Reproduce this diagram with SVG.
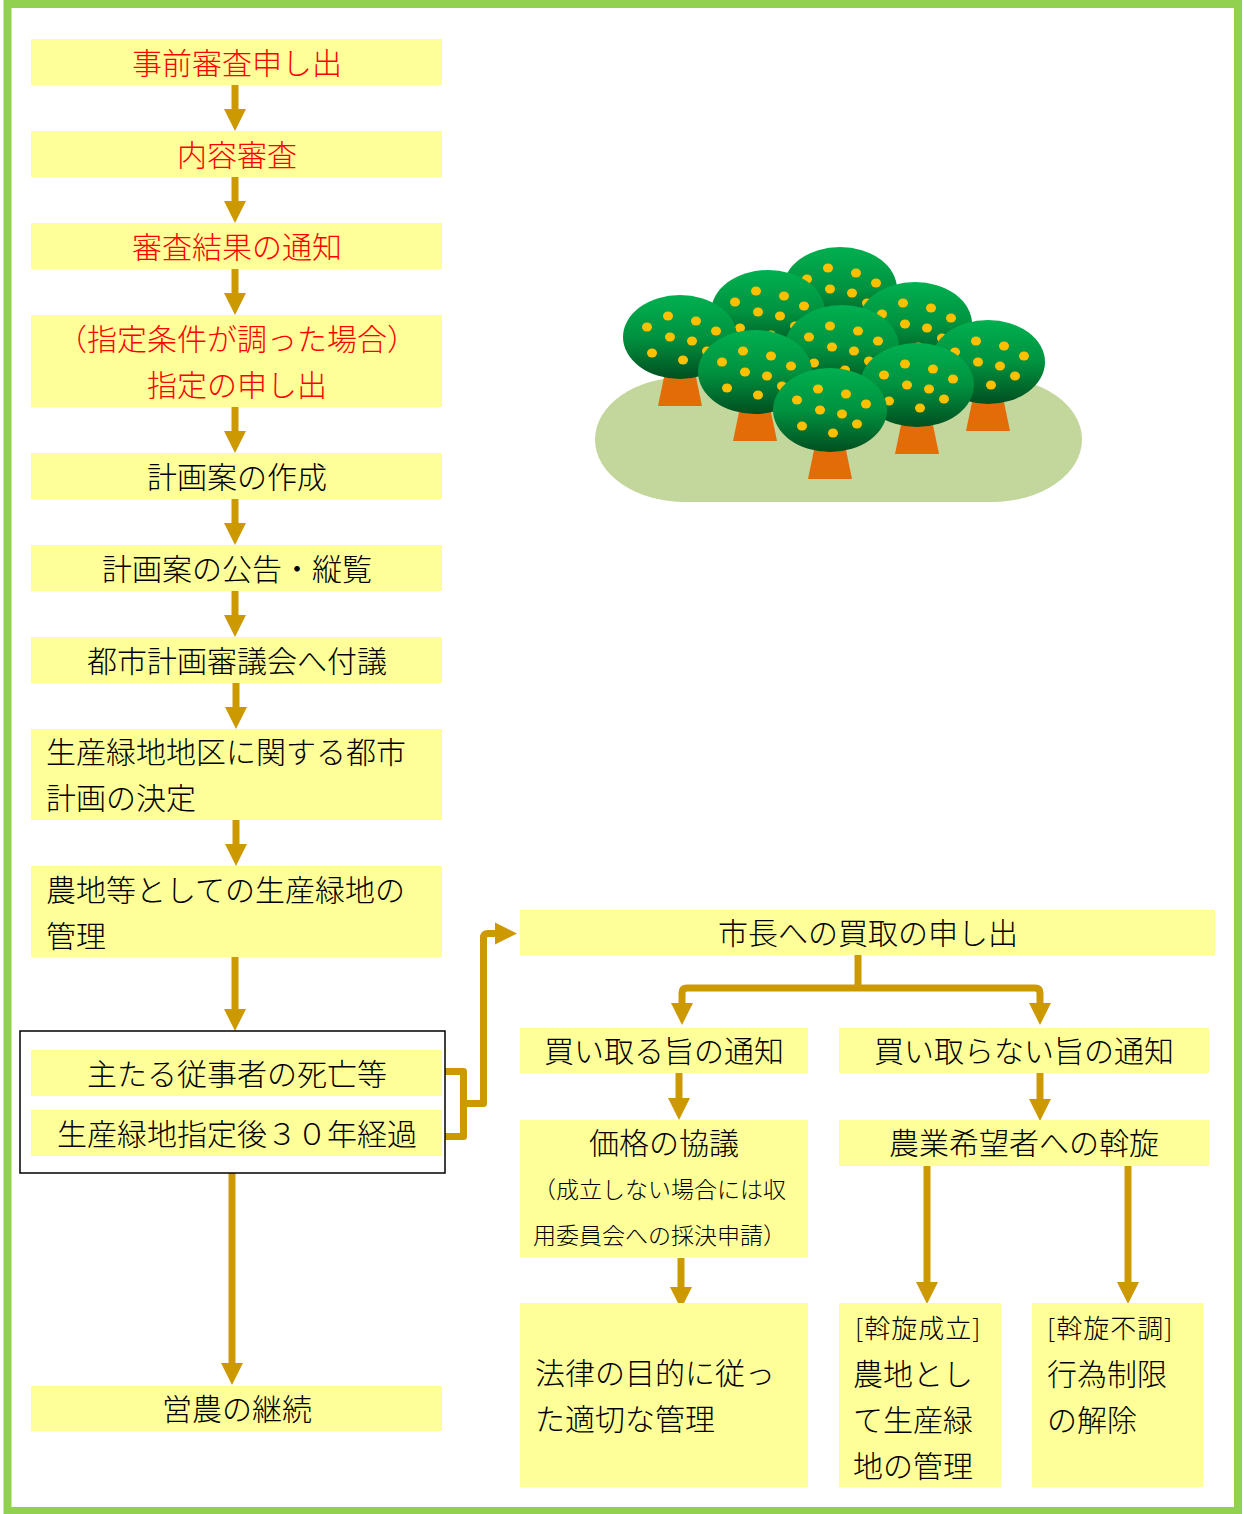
<svg xmlns="http://www.w3.org/2000/svg" width="1244" height="1514" viewBox="0 0 1244 1514">
  <style>
    .box { fill: #ffff99; }
    .t { font-family: "Noto Sans CJK JP", "Noto Sans", sans-serif; font-size: 30px; font-weight: 300; fill: #000; dominant-baseline: central; }
    .c { text-anchor: middle; }
    .red { fill: #ff0000; }
    .s { font-size: 23px; }
    .m { font-size: 26px; letter-spacing: 1px; }
    .wire { fill: none; stroke: #cc9900; stroke-width: 7; stroke-linejoin: round; }
    .arrow { marker-end: url(#head); }
  </style>
  <defs>
    <marker id="head" markerUnits="userSpaceOnUse" markerWidth="24" markerHeight="24" refX="1" refY="12" orient="auto">
      <path d="M0,1 L22,12 L0,23 Z" fill="#cc9900"/>
    </marker>
    <linearGradient id="crown" x1="0" y1="0" x2="0" y2="1">
      <stop offset="0" stop-color="#00b050"/>
      <stop offset="0.5" stop-color="#00923f"/>
      <stop offset="1" stop-color="#004f20"/>
    </linearGradient>
    <g id="tree">
      <polygon points="-16,40 16,40 22,69 -22,69" fill="#e36c09"/>
      <ellipse cx="0" cy="0" rx="57" ry="42" fill="url(#crown)"/>
      <g fill="#ffc000">
        <ellipse cx="-33" cy="-10" rx="5" ry="4.5"/>
        <ellipse cx="-12" cy="-21" rx="5" ry="4.5"/>
        <ellipse cx="16" cy="-16" rx="5" ry="4.5"/>
        <ellipse cx="36" cy="-6" rx="5" ry="4.5"/>
        <ellipse cx="-10" cy="0" rx="5" ry="4.5"/>
        <ellipse cx="12" cy="4" rx="5" ry="4.5"/>
        <ellipse cx="-28" cy="16" rx="5" ry="4.5"/>
        <ellipse cx="3" cy="23" rx="5" ry="4.5"/>
        <ellipse cx="27" cy="14" rx="5" ry="4.5"/>
      </g>
    </g>
  </defs>

  <rect width="1244" height="1514" fill="#fff"/>
  <!-- frame -->
  <rect x="7.5" y="4" width="1230.5" height="1507" fill="none" stroke="#92d050" stroke-width="8"/>

  <!-- orchard illustration -->
  <g id="orchard">
    <rect x="595" y="377" width="487" height="125" rx="90" ry="62.5" fill="#c3d69b"/>
    <use href="#tree" transform="translate(840,289)"/>
    <use href="#tree" transform="translate(768,312)"/>
    <use href="#tree" transform="translate(915,324)"/>
    <use href="#tree" transform="translate(680,337)"/>
    <use href="#tree" transform="translate(842,347)"/>
    <use href="#tree" transform="translate(988,362)"/>
    <use href="#tree" transform="translate(755,372)"/>
    <use href="#tree" transform="translate(917,385)"/>
    <use href="#tree" transform="translate(830,410)"/>
  </g>

  <!-- connectors -->
  <g id="connectors">
    <path class="wire arrow" d="M235,85 V110"/>
    <path class="wire arrow" d="M235,177 V202"/>
    <path class="wire arrow" d="M235,269 V294"/>
    <path class="wire arrow" d="M235,407 V432"/>
    <path class="wire arrow" d="M235,499 V524"/>
    <path class="wire arrow" d="M235,591 V616"/>
    <path class="wire arrow" d="M236,683 V708"/>
    <path class="wire arrow" d="M236,820 V845"/>
    <path class="wire arrow" d="M235,957 V1010"/>
    <path class="wire arrow" d="M232,1173 V1364"/>
    <!-- bracket from the two conditions to the purchase request -->
    <path class="wire" d="M445,1071.5 H463.5 V1136.5 H445"/>
    <path class="wire arrow" d="M463.5,1103.5 H483.5 V938 Q483.5,933.5 488,933.5 H496"/>
    <!-- split below the purchase request -->
    <path class="wire" d="M858,955 V988"/>
    <path class="wire arrow" d="M858,988 H687 Q682,988 682,993 V1004"/>
    <path class="wire arrow" d="M858,988 H1035 Q1040,988 1040,993 V1004"/>
    <path class="wire arrow" d="M679,1073 V1099"/>
    <path class="wire arrow" d="M1040,1073 V1100"/>
    <path class="wire arrow" d="M681,1258 V1288"/>
    <path class="wire arrow" d="M927,1166 V1283"/>
    <path class="wire arrow" d="M1128,1166 V1283"/>
  </g>

  <!-- left column -->
  <g id="n1">
    <rect class="box" x="31" y="39" width="411" height="46"/>
    <text class="t c red" x="237" y="61">事前審査申し出</text>
  </g>
  <g id="n2">
    <rect class="box" x="31" y="131" width="411" height="46"/>
    <text class="t c red" x="237" y="153">内容審査</text>
  </g>
  <g id="n3">
    <rect class="box" x="31" y="223" width="411" height="46"/>
    <text class="t c red" x="237" y="245">審査結果の通知</text>
  </g>
  <g id="n4">
    <rect class="box" x="31" y="315" width="411" height="92"/>
    <text class="t c red" x="237" y="337">（指定条件が調った場合）</text>
    <text class="t c red" x="237" y="383">指定の申し出</text>
  </g>
  <g id="n5">
    <rect class="box" x="31" y="453" width="411" height="46"/>
    <text class="t c" x="237" y="475">計画案の作成</text>
  </g>
  <g id="n6">
    <rect class="box" x="31" y="545" width="411" height="46"/>
    <text class="t c" x="237" y="567">計画案の公告・縦覧</text>
  </g>
  <g id="n7">
    <rect class="box" x="31" y="637" width="411" height="46"/>
    <text class="t c" x="237" y="659">都市計画審議会へ付議</text>
  </g>
  <g id="n8">
    <rect class="box" x="31" y="729" width="411" height="91"/>
    <text class="t" x="46" y="750">生産緑地地区に関する都市</text>
    <text class="t" x="46" y="796">計画の決定</text>
  </g>
  <g id="n9">
    <rect class="box" x="31" y="866" width="411" height="91"/>
    <text class="t" x="46" y="888">農地等としての生産緑地の</text>
    <text class="t" x="46" y="934">管理</text>
  </g>
  <g id="n10">
    <rect x="20" y="1031" width="425" height="142" fill="#fff" stroke="#000" stroke-width="1.5"/>
    <rect class="box" x="31" y="1050" width="411" height="46"/>
    <text class="t c" x="237" y="1072">主たる従事者の死亡等</text>
    <rect class="box" x="31" y="1110" width="411" height="46"/>
    <text class="t c" x="237" y="1132">生産緑地指定後３０年経過</text>
  </g>
  <g id="n11">
    <rect class="box" x="31" y="1386" width="411" height="45"/>
    <text class="t c" x="237" y="1407">営農の継続</text>
  </g>

  <!-- right column -->
  <g id="n12">
    <rect class="box" x="520" y="910" width="695" height="45"/>
    <text class="t c" x="868" y="931">市長への買取の申し出</text>
  </g>
  <g id="n13">
    <rect class="box" x="520" y="1028" width="288" height="45"/>
    <text class="t c" x="664" y="1049">買い取る旨の通知</text>
  </g>
  <g id="n14">
    <rect class="box" x="839" y="1028" width="370" height="45"/>
    <text class="t c" x="1024" y="1049">買い取らない旨の通知</text>
  </g>
  <g id="n15">
    <rect class="box" x="520" y="1120" width="288" height="137"/>
    <text class="t c" x="664" y="1141">価格の協議</text>
    <text class="t s" x="533" y="1188">（成立しない場合には収</text>
    <text class="t s" x="533" y="1234">用委員会への採決申請）</text>
  </g>
  <g id="n16">
    <rect class="box" x="839" y="1120" width="370" height="46"/>
    <text class="t c" x="1024" y="1141">農業希望者への斡旋</text>
  </g>
  <g id="n17">
    <rect class="box" x="520" y="1303" width="288" height="184"/>
    <text class="t" x="535" y="1371">法律の目的に従っ</text>
    <text class="t" x="535" y="1417">た適切な管理</text>
  </g>
  <g id="n18">
    <rect class="box" x="839" y="1303" width="162" height="184"/>
    <text class="t m" x="855" y="1326">[斡旋成立]</text>
    <text class="t" x="853" y="1372">農地とし</text>
    <text class="t" x="853" y="1418">て生産緑</text>
    <text class="t" x="853" y="1464">地の管理</text>
  </g>
  <g id="n19">
    <rect class="box" x="1032" y="1303" width="171" height="184"/>
    <text class="t m" x="1047" y="1326">[斡旋不調]</text>
    <text class="t" x="1047" y="1372">行為制限</text>
    <text class="t" x="1047" y="1418">の解除</text>
  </g>
</svg>
